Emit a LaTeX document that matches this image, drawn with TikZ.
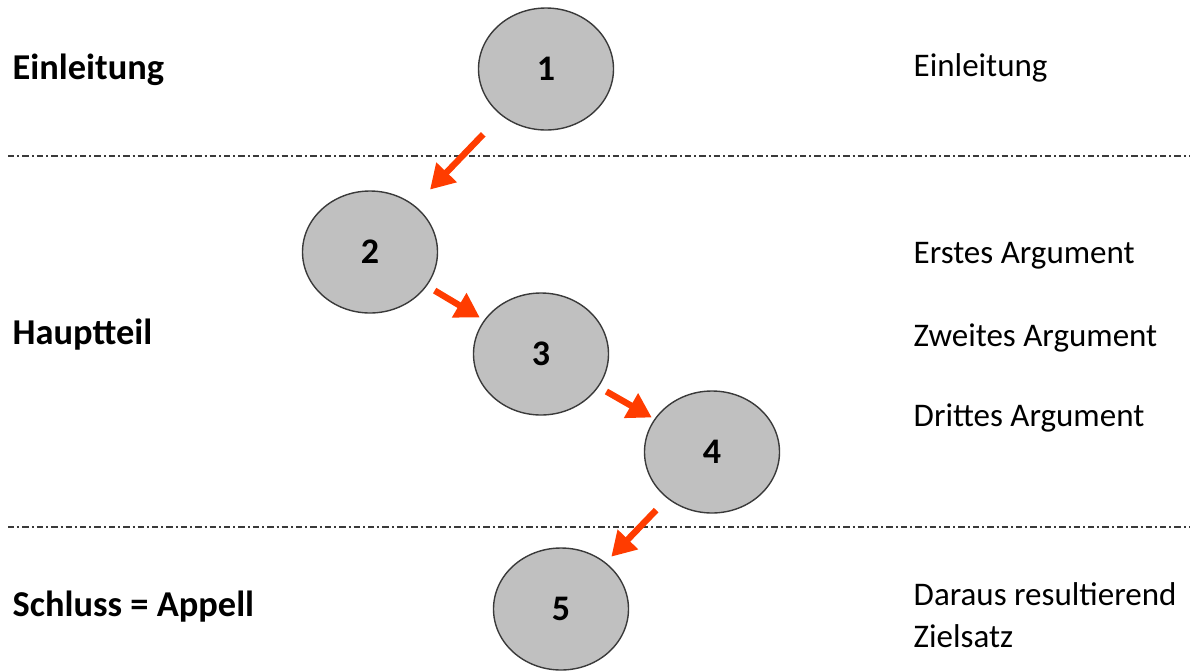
\documentclass[tikz,border=0pt]{standalone}
\usepackage{fontspec}
\setmainfont{Carlito}
\usetikzlibrary{arrows.meta, shapes.geometric}
\definecolor{cfill}{HTML}{C0C0C0}
\definecolor{cedge}{HTML}{3A3A3A}
\definecolor{cred}{HTML}{FF3C00}
\tikzset{
  every picture/.style={line width=0.7pt},
  step node/.style={ellipse, draw=cedge, fill=cfill, minimum width=67.5pt, minimum height=61pt, inner sep=0pt, font=\fontsize{18}{20}\selectfont\bfseries},
  section/.style={anchor=west, inner sep=0pt, font=\fontsize{18.2}{22}\selectfont\bfseries},
  item/.style={anchor=west, inner sep=0pt, font=\fontsize{16.5}{20}\selectfont},
  arrow/.style={-{Triangle[length=12pt, width=13.5pt]}, draw=cred, line width=3.2pt},
  divider/.style={draw=cedge, line width=0.8pt, dash pattern=on 3.2pt off 1.5pt on 1pt off 1.5pt},
}
\begin{document}
\begin{tikzpicture}[x=0.5pt, y=-0.5pt]
  \useasboundingbox (0,0) rectangle (1190,671);
  % separators
  \draw[divider] (8,156) -- (1190,156);
  \draw[divider] (8,527) -- (1190,527);
  % steps
  \node[step node] (s1) at (546, 69) {1};
  \node[step node] (s2) at (370,252) {2};
  \node[step node] (s3) at (541,354) {3};
  \node[step node] (s4) at (712,452) {4};
  \node[step node] (s5) at (561,609) {5};
  \draw[arrow, shorten <=13pt, shorten >=11pt] (s1) -- (s2);
  \draw[arrow, shorten <=4.5pt, shorten >=2.5pt] (s2) -- (s3);
  \draw[arrow, shorten <=4.5pt, shorten >=1.5pt] (s3) -- (s4);
  \draw[arrow, shorten <=8pt, shorten >=4pt] (s4) -- (s5);
  % left column
  \node[section] (einl) at (12, 70) {Einleitung};
  \node[section] (haupt) at (12,335) {Hauptteil};
  \node[section] (schluss) at (12,607) {Schluss = Appell};
  % right column
  \node[item] (r1) at (913, 68) {Einleitung};
  \node[item] (r2) at (913,256) {Erstes Argument};
  \node[item] (r3) at (913,338) {Zweites Argument};
  \node[item] (r4) at (913,418) {Drittes Argument};
  \node[item] (r5) at (913,594) {Daraus resultierend};
  \node[item] (r6) at (913,636) {Zielsatz};
\end{tikzpicture}
\end{document}
